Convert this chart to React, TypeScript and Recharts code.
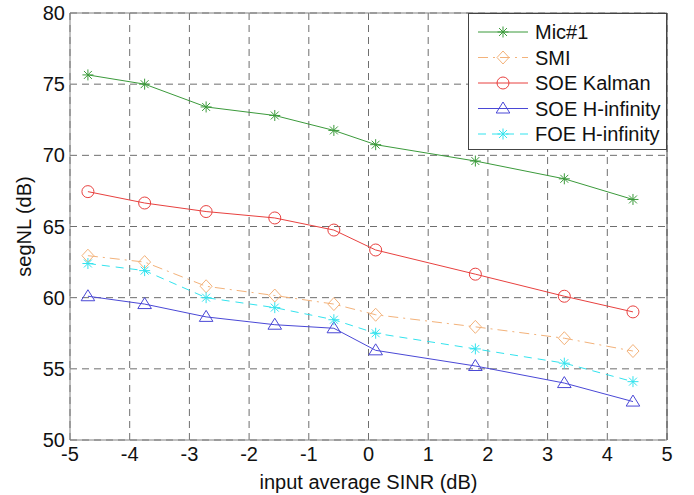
import React from "react";
import { CartesianGrid, Line, LineChart, ReferenceLine, XAxis, YAxis } from "recharts";

// input average SINR (dB) at each measurement
const sinr = [-4.7, -3.75, -2.72, -1.57, -0.58, 0.12, 1.79, 3.28, 4.43];

// segNL (dB) per method
const mic1 = [75.65, 75.0, 73.4, 72.8, 71.75, 70.75, 69.6, 68.35, 66.9];
const smi = [62.95, 62.5, 60.8, 60.15, 59.55, 58.8, 57.95, 57.15, 56.25];
const soeKalman = [67.45, 66.65, 66.05, 65.6, 64.75, 63.35, 61.65, 60.1, 59.0];
const soeHinf = [60.1, 59.55, 58.65, 58.1, 57.85, 56.3, 55.2, 54.0, 52.7];
const foeHinf = [62.4, 61.9, 60.0, 59.3, 58.45, 57.5, 56.4, 55.4, 54.1];

const xTicks = [-5, -4, -3, -2, -1, 0, 1, 2, 3, 4, 5];
const yTicks = [50, 55, 60, 65, 70, 75, 80];

const FONT = '"Liberation Sans", Arial, Helvetica, sans-serif';
const FS = 20;

type Marker = "star" | "diamond" | "circle" | "triangle";

const series: { key: string; name: string; color: string; marker: Marker; dash?: string }[] = [
  { key: "mic1", name: "Mic#1", color: "#3b9a3b", marker: "star" },
  { key: "smi", name: "SMI", color: "#f3b27a", marker: "diamond", dash: "10 5 2 5" },
  { key: "soeKalman", name: "SOE Kalman", color: "#e8413f", marker: "circle" },
  { key: "soeHinf", name: "SOE H-infinity", color: "#4a48d6", marker: "triangle" },
  { key: "foeHinf", name: "FOE H-infinity", color: "#33e3ee", marker: "star", dash: "8 6" },
];

const rows = sinr.map((x, i) => ({
  x,
  mic1: mic1[i],
  smi: smi[i],
  soeKalman: soeKalman[i],
  soeHinf: soeHinf[i],
  foeHinf: foeHinf[i],
}));

function MarkerShape({ kind, cx, cy, color }: { kind: Marker; cx: number; cy: number; color: string }) {
  if (kind === "star") {
    const r = 5.5;
    const d = r * 0.72;
    return (
      <g stroke={color} strokeWidth={1}>
        <line x1={cx - r} y1={cy} x2={cx + r} y2={cy} />
        <line x1={cx} y1={cy - r} x2={cx} y2={cy + r} />
        <line x1={cx - d} y1={cy - d} x2={cx + d} y2={cy + d} />
        <line x1={cx - d} y1={cy + d} x2={cx + d} y2={cy - d} />
      </g>
    );
  }
  if (kind === "diamond") {
    return (
      <polygon
        points={`${cx},${cy - 6.5} ${cx + 6},${cy} ${cx},${cy + 6.5} ${cx - 6},${cy}`}
        fill="none"
        stroke={color}
        strokeWidth={1}
      />
    );
  }
  if (kind === "circle") {
    return <circle cx={cx} cy={cy} r={6} fill="none" stroke={color} strokeWidth={1} />;
  }
  return (
    <polygon
      points={`${cx},${cy - 6.5} ${cx + 6.8},${cy + 4.5} ${cx - 6.8},${cy + 4.5}`}
      fill="none"
      stroke={color}
      strokeWidth={1}
    />
  );
}

function LegendBox() {
  return (
    <svg width={199} height={137} style={{ display: "block" }}>
      <rect x={0.5} y={0.5} width={198} height={136} fill="#fff" stroke="#444" />
      {series.map((s, i) => {
        const y = 19 + i * 25.5;
        return (
          <g key={s.key}>
            <line x1={10} y1={y} x2={60} y2={y} stroke={s.color} strokeDasharray={s.dash} />
            <MarkerShape kind={s.marker} cx={35} cy={y} color={s.color} />
            <text x={67} y={y + 7} fontSize={FS} fontFamily={FONT} fill="#111">
              {s.name}
            </text>
          </g>
        );
      })}
    </svg>
  );
}

export default function App() {
  return (
    <div style={{ position: "absolute", left: 0, top: 0, width: 694, height: 495, background: "#fff" }}>
      <LineChart
        width={694}
        height={495}
        data={rows}
        margin={{ top: 13, right: 27, left: 8, bottom: 0 }}
        style={{ fontFamily: FONT }}
      >
        <CartesianGrid stroke="#6e6e6e" strokeDasharray="7 5" />
        <XAxis
          type="number"
          dataKey="x"
          domain={[-5, 5]}
          ticks={xTicks}
          height={55}
          tickLine={false}
          tickSize={0}
          tickMargin={7}
          axisLine={{ stroke: "#808080" }}
          tick={{ fontSize: FS, fill: "#111", fontFamily: FONT }}
          label={{
            value: "input average SINR (dB)",
            position: "insideBottom",
            offset: 6,
            style: { fontSize: FS, fill: "#111", fontFamily: FONT },
          }}
        />
        <YAxis
          type="number"
          domain={[50, 80]}
          ticks={yTicks}
          width={62}
          tickLine={false}
          tickSize={0}
          tickMargin={5}
          axisLine={{ stroke: "#808080" }}
          tick={{ fontSize: FS, fill: "#111", fontFamily: FONT }}
          label={(props: any) => {
            const vb = props.viewBox;
            const x = vb.x + 16;
            const y = vb.y + vb.height / 2;
            return (
              <text
                x={x}
                y={y}
                transform={`rotate(-90, ${x}, ${y})`}
                textAnchor="middle"
                dominantBaseline="central"
                fontSize={FS}
                fontFamily={FONT}
                fill="#111"
              >
                segNL (dB)
              </text>
            );
          }}
        />
        <ReferenceLine y={80} stroke="#808080" />
        <ReferenceLine x={5} stroke="#444" />
        {series.map((s) => (
          <Line
            key={s.key}
            type="linear"
            dataKey={s.key}
            name={s.name}
            stroke={s.color}
            strokeWidth={1}
            strokeDasharray={s.dash}
            isAnimationActive={false}
            dot={(p: any) => (
              <MarkerShape key={`${s.key}-${p.index}`} kind={s.marker} cx={p.cx} cy={p.cy} color={s.color} />
            )}
            activeDot={false}
          />
        ))}
      </LineChart>
      <div style={{ position: "absolute", left: 468, top: 13 }}>
        <LegendBox />
      </div>
    </div>
  );
}
